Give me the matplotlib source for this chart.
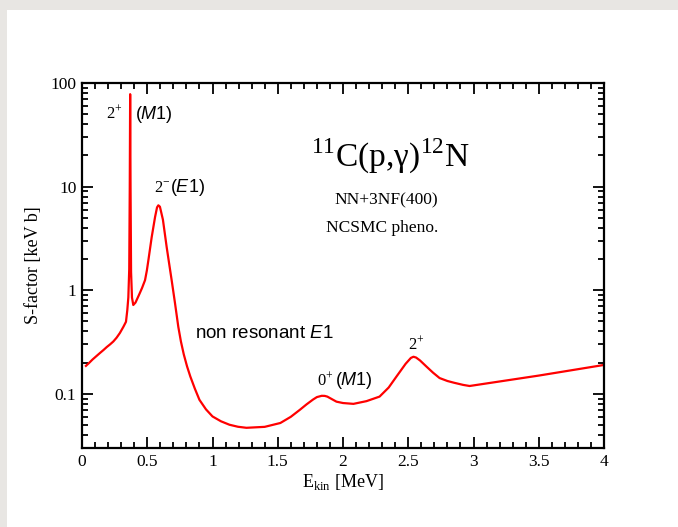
import numpy as np
import matplotlib
matplotlib.use('Agg')
import matplotlib.pyplot as plt
from matplotlib.ticker import MultipleLocator, LogLocator, NullFormatter, FixedLocator, FixedFormatter

# S-factor curve (E in MeV, S in keV b)
energy = [0.03, 0.055, 0.08, 0.11, 0.138, 0.165, 0.19, 0.215, 0.24, 0.265,
          0.29, 0.317, 0.337, 0.347, 0.355,
          0.362, 0.366, 0.369, 0.372, 0.376, 0.383, 0.393, 0.41, 0.44, 0.46,
          0.483, 0.497, 0.51, 0.534, 0.56, 0.575, 0.585, 0.597, 0.62, 0.649,
          0.668, 0.687, 0.712, 0.738, 0.758, 0.78, 0.805, 0.83, 0.865, 0.90,
          0.95, 1.0, 1.065, 1.13, 1.195, 1.26, 1.40, 1.52, 1.60, 1.67,
          1.72, 1.77, 1.80, 1.837, 1.86, 1.88, 1.90, 1.95, 2.0, 2.08,
          2.18, 2.28, 2.35, 2.41, 2.48, 2.52, 2.54, 2.56, 2.59, 2.64,
          2.69, 2.74, 2.80, 2.85, 2.92, 2.97, 3.5, 4.0]
sfactor = [0.186, 0.199, 0.214, 0.231, 0.248, 0.265, 0.283, 0.300, 0.320, 0.348,
           0.386, 0.443, 0.496, 0.64, 0.85,
           1.6, 10.0, 78.0, 10.0, 1.5, 0.85, 0.72, 0.76, 0.92, 1.05,
           1.25, 1.55, 2.0, 3.25, 5.1, 6.3, 6.6, 6.4, 4.8, 2.6,
           1.8, 1.25, 0.76, 0.443, 0.32, 0.24, 0.184, 0.147, 0.112, 0.0875,
           0.0708, 0.0605, 0.0543, 0.0503, 0.0481, 0.047, 0.048, 0.0523, 0.060, 0.0702,
           0.079, 0.088, 0.093, 0.0957, 0.0955, 0.094, 0.091, 0.084, 0.0815, 0.080,
           0.085, 0.094, 0.115, 0.147, 0.195, 0.222, 0.228, 0.224, 0.21, 0.183,
           0.16, 0.142, 0.133, 0.128, 0.122, 0.119, 0.15, 0.19]

ytick_vals = [0.1, 1, 10, 100]
ytick_labels = ['0.1', '1', '10', '100']
xtick_vals = [0, 0.5, 1, 1.5, 2, 2.5, 3, 3.5, 4]
xtick_labels = ['0', '0.5', '1', '1.5', '2', '2.5', '3', '3.5', '4']

serif = 'Liberation Serif'
sans = 'Liberation Sans'

plt.rcParams['mathtext.fontset'] = 'custom'
plt.rcParams['mathtext.rm'] = serif
plt.rcParams['mathtext.it'] = sans + ':italic'
plt.rcParams['mathtext.sf'] = sans

fig = plt.figure(figsize=(6.78, 5.27), dpi=100)
fig.patch.set_facecolor('#e8e6e3')
# white page panel
fig.add_artist(plt.Rectangle((7/678, 0), 1, 1 - 10/527, transform=fig.transFigure,
                             facecolor='white', edgecolor='none', zorder=-10))

ax = fig.add_axes([82/678, 79/527, 522/678, 365/527])
ax.plot(energy, sfactor, color='#ff0000', lw=1.6)
ax.set_yscale('log')
ax.set_xlim(0, 4)
ax.set_ylim(0.03, 100)

ax.xaxis.set_major_locator(FixedLocator(xtick_vals))
ax.xaxis.set_major_formatter(FixedFormatter(xtick_labels))
ax.xaxis.set_minor_locator(MultipleLocator(0.1))
ax.yaxis.set_major_locator(FixedLocator(ytick_vals))
ax.yaxis.set_major_formatter(FixedFormatter(ytick_labels))
ax.yaxis.set_minor_locator(LogLocator(base=10, subs=np.arange(2, 10)))
ax.yaxis.set_minor_formatter(NullFormatter())

ax.tick_params(which='both', direction='in', top=True, right=True, width=1.3, color='black')
ax.tick_params(which='major', length=8, labelsize=12.5, pad=4)
ax.tick_params(which='minor', length=4)
for lab in ax.get_xticklabels() + ax.get_yticklabels():
    lab.set_fontfamily(serif)
for sp in ax.spines.values():
    sp.set_linewidth(1.6)

ax.set_xlabel(r'E$_{\mathrm{kin}}$ [MeV]', fontfamily=serif, fontsize=13, labelpad=2)
ax.set_ylabel('S-factor [keV b]', fontfamily=serif, fontsize=13, labelpad=6)

# resonance labels
ax.text(0.314, 50, r'2$^{\mathrm{+}}$', fontfamily=serif, fontsize=12, ha='right', va='center')
ax.text(0.406, 50, r'($\mathit{M}$1)', fontfamily=sans, fontsize=13, ha='left', va='center')
ax.text(0.55, 9.8, r'2$^{\mathrm{-}}$', fontfamily=serif, fontsize=12, ha='left', va='center')
ax.text(0.672, 9.8, r'($\mathit{E}$1)', fontfamily=sans, fontsize=13, ha='left', va='center')
ax.text(0.866, 0.385, r'non resonant $\mathit{E}$1', fontfamily=sans, fontsize=13.5,
        ha='left', va='center')
ax.text(1.80, 0.133, r'0$^{\mathrm{+}}$', fontfamily=serif, fontsize=12, ha='left', va='center')
ax.text(1.935, 0.133, r'($\mathit{M}$1)', fontfamily=sans, fontsize=13, ha='left', va='center')
ax.text(2.497, 0.296, r'2$^{\mathrm{+}}$', fontfamily=serif, fontsize=12, ha='left', va='center')

ax.text(2.36, 19.9, r'$^{\mathrm{11}}$C(p,γ)$^{\mathrm{12}}$N', fontfamily=serif, fontsize=24,
        ha='center', va='center')
ax.text(2.33, 7.33, 'NN+3NF(400)', fontfamily=serif, fontsize=12.5, ha='center', va='center')
ax.text(2.30, 3.95, 'NCSMC pheno.', fontfamily=serif, fontsize=12.5, ha='center', va='center')

fig.savefig('out.png', dpi=100)
